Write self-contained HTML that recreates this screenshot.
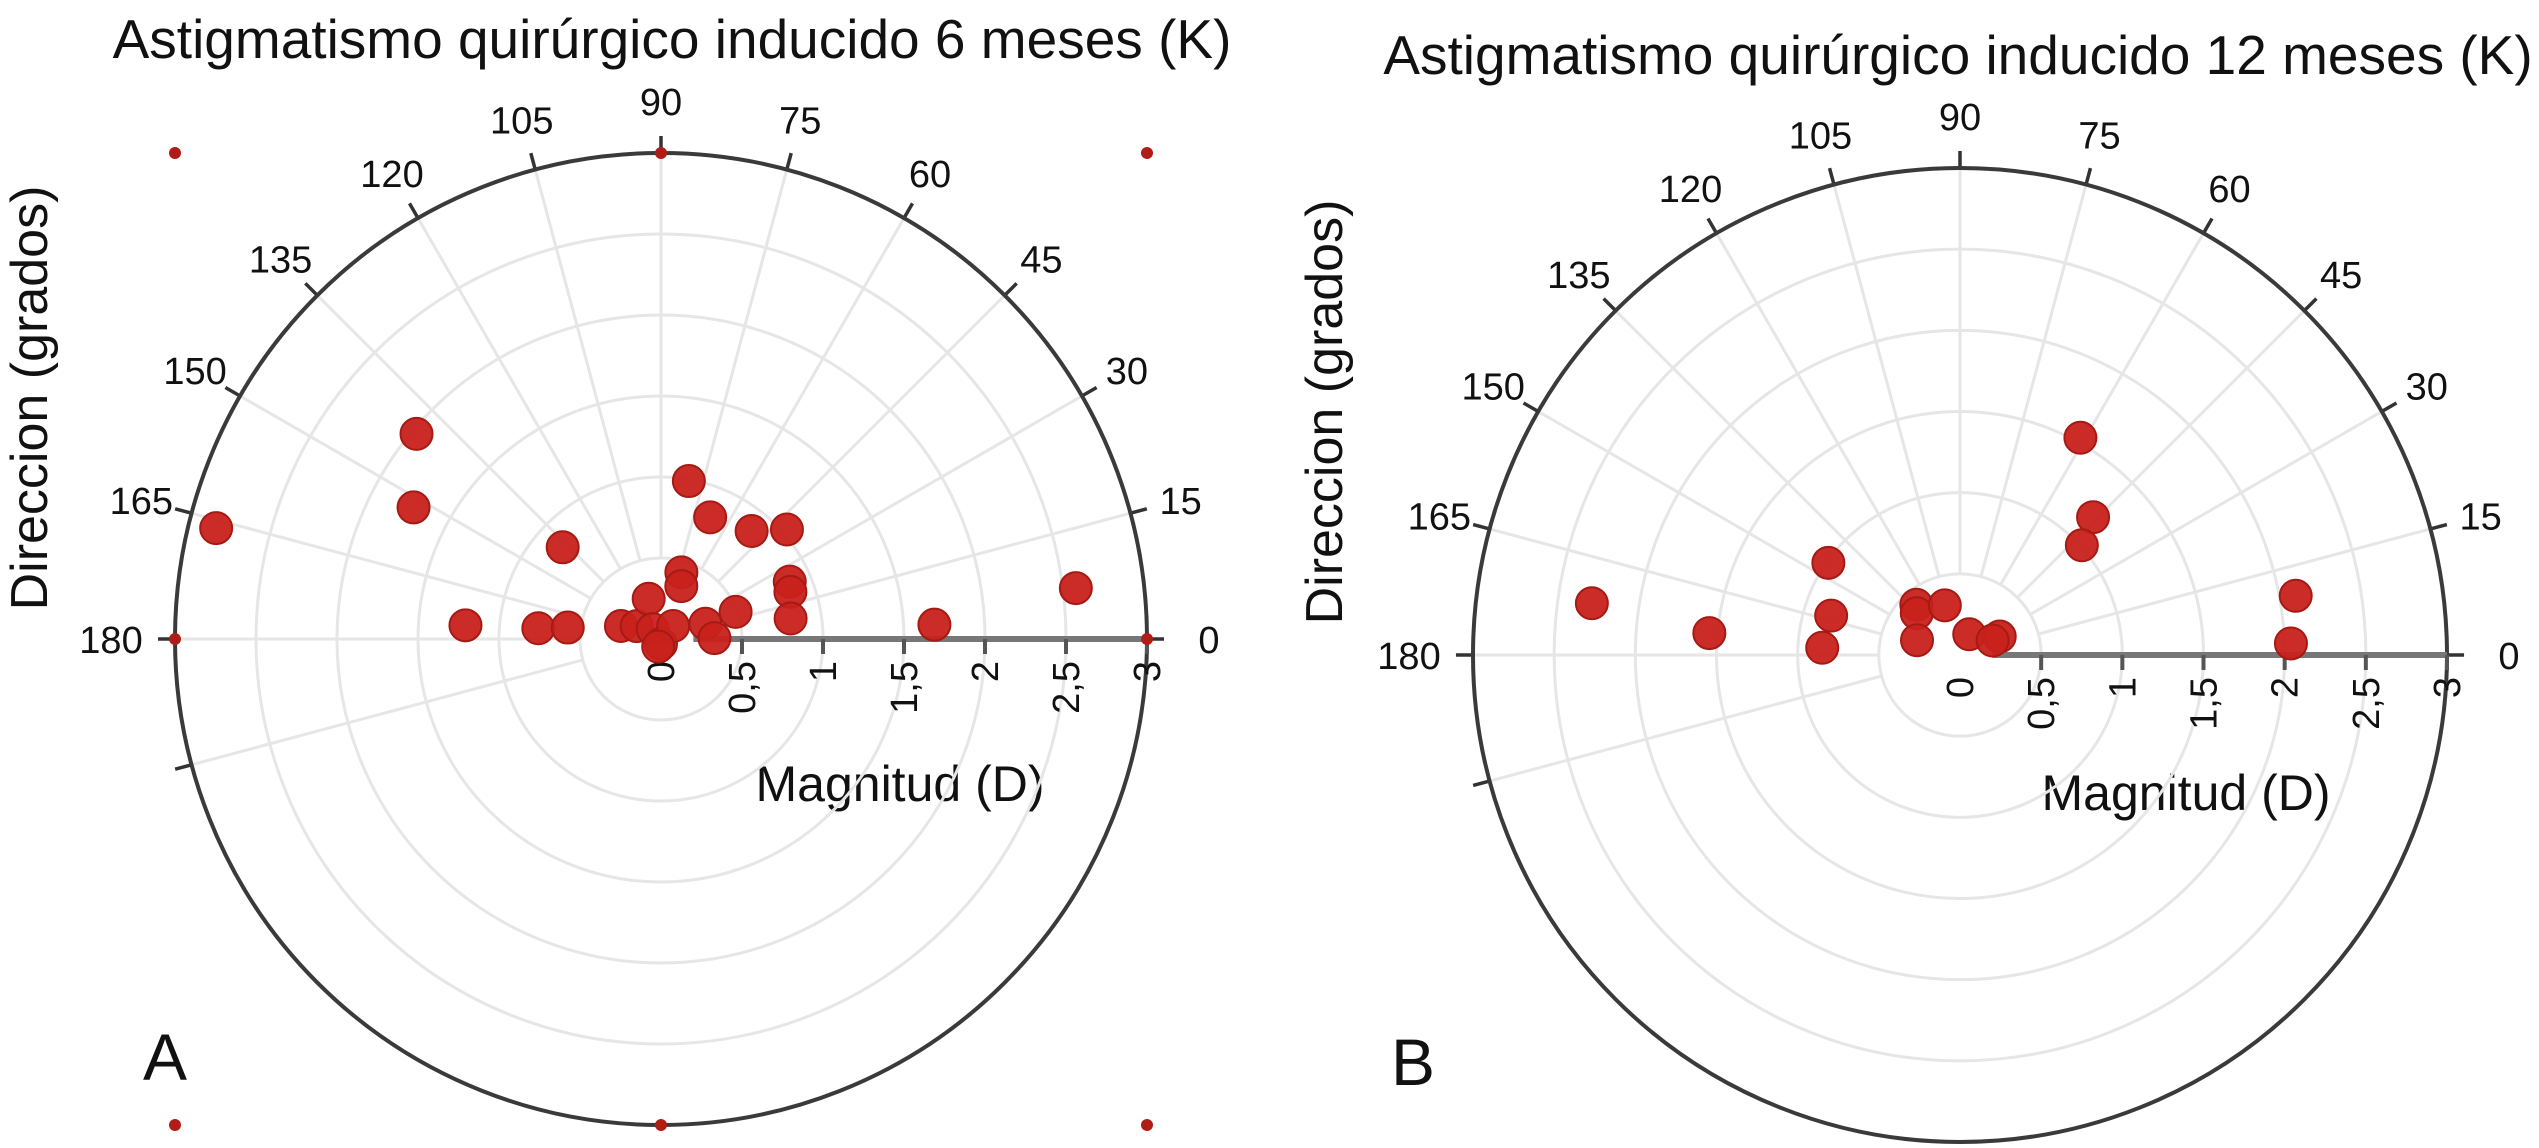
<!DOCTYPE html>
<html><head><meta charset="utf-8"><style>
html,body{margin:0;padding:0;background:#fff;}
svg{display:block;}
text{font-family:"Liberation Sans",Arial,sans-serif;fill:#111;}
</style></head><body>
<svg id="chart" width="2539" height="1148" viewBox="0 0 2539 1148" xmlns="http://www.w3.org/2000/svg">
<text x="672" y="58" font-size="55" text-anchor="middle">Astigmatismo quirúrgico inducido 6 meses (K)</text>
<text x="1958" y="74" font-size="55" text-anchor="middle">Astigmatismo quirúrgico inducido 12 meses (K)</text>
<text transform="translate(47,398) rotate(-90)" font-size="52" text-anchor="middle">Direccion (grados)</text>
<text transform="translate(1342,412) rotate(-90)" font-size="52" text-anchor="middle">Direccion (grados)</text>
<text x="900" y="801" font-size="50" text-anchor="middle">Magnitud (D)</text>
<text x="2186" y="810" font-size="50" text-anchor="middle">Magnitud (D)</text>
<text x="143" y="1080" font-size="66">A</text>
<text x="1391" y="1085" font-size="66">B</text>
<g id="pa"></g>
<g id="pb"></g>
</svg>
<script>
const angleTicks = [0,15,30,45,60,75,90,105,120,135,150,165,180];
const radialTicks = [0,0.5,1,1.5,2,2.5,3];
const radialLabels = ["0","0,5","1","1,5","2","2,5","3"];
const magA = [1.97,1.73,2.83,0.83,1.21,0.76,0.58,0.26,0.17,0.26,0.08,0.03,0.11,0.43,0.35,0.99,0.81,0.87,1.03,0.87,0.85,0.81,0.49,0.29,0.33,1.69,2.58,0.05];
const angA = [140,152,166,137,176,175,173,162,152,107,130,270,47,73,69,80,68,50,41,24,20,9,20,19,1,3,7,250];
const magB = [1.53,1.18,1.01,0.99,0.83,0.85,2.29,1.55,0.41,0.37,0.28,0.32,0.14,0.27,0.22,2.10,2.04];
const angB = [61,46,42,145,163,177,172,175,131,136,161,107,66,25,24,10,2];
const NS="http://www.w3.org/2000/svg";
function mk(parent,tag,attrs){const e=document.createElementNS(NS,tag);for(const k in attrs)e.setAttribute(k,attrs[k]);parent.appendChild(e);return e;}
function drawPolar(g,cx,cy,R,mags,angs,key,corners){
  const maxR=3;
  const rs=v=>v/maxR*R;
  const px=(m,a)=>cx+rs(m)*Math.cos(a*Math.PI/180);
  const py=(m,a)=>cy-rs(m)*Math.sin(a*Math.PI/180);
  for(let i=1;i<radialTicks.length-1;i++){
    const c=mk(g,'circle',{cx:cx,cy:cy,r:rs(radialTicks[i]),fill:'none',stroke:'#e6e6e6','stroke-width':3});
    
    
  }
  const spokes=angleTicks.concat([195]);
  spokes.forEach(a=>{
    const l=mk(g,'line',{x1:px(0.5,a),y1:py(0.5,a),x2:px(maxR,a),y2:py(maxR,a),stroke:'#e6e6e6','stroke-width':3});
    
    
    const t=mk(g,'line',{x1:px(maxR,a),y1:py(maxR,a),x2:px(maxR*1.035,a),y2:py(maxR*1.035,a),stroke:'#333','stroke-width':3.5});
    
    
  });
  const oc=mk(g,'circle',{cx:cx,cy:cy,r:R,fill:'none',stroke:'#3a3a3a','stroke-width':4});
  
  
  const ax=mk(g,'line',{x1:px(0.2,0),y1:cy,x2:cx+R,y2:cy,stroke:'#777','stroke-width':6});
  
  
  angleTicks.forEach(a=>{
    const rr=R+52;
    const t=mk(g,'text',{x:cx+rr*Math.cos(a*Math.PI/180)+(a==0?10:a==180?-12:0),y:cy-rr*Math.sin(a*Math.PI/180)+14,'font-size':38,'text-anchor':'middle'});
    t.textContent=String(a);
    
    
  });
  radialTicks.forEach((v,i)=>{
    const x=px(v,0);
    if(v>0){
      const tk=mk(g,'line',{x1:x,y1:cy,x2:x,y2:cy+15,stroke:'#555','stroke-width':4});
      
      
    }
    const t=mk(g,'text',{transform:'translate('+(x+13)+','+(cy+22)+') rotate(-90)','font-size':38,'text-anchor':'end'});
    t.textContent=radialLabels[i];
    
    
  });
  mags.forEach((m,i)=>{
    const c=mk(g,'circle',{cx:px(m,angs[i]),cy:py(m,angs[i]),r:16,fill:'#c8211b',stroke:'#a61a14','stroke-width':2,'fill-opacity':0.95});
    
    
  });
  if(corners){
    [[-1,-1],[0,-1],[1,-1],[-1,0],[1,0],[-1,1],[0,1],[1,1]].forEach(p=>{
      const d=mk(g,'circle',{cx:cx+p[0]*R,cy:cy+p[1]*R,r:6,fill:'#b01d17'});
      
      
    });
  }
}
drawPolar(document.getElementById('pa'),661,639,486,magA,angA,'a',true);
drawPolar(document.getElementById('pb'),1960,655,487,magB,angB,'b',false);
</script>
</body></html>
